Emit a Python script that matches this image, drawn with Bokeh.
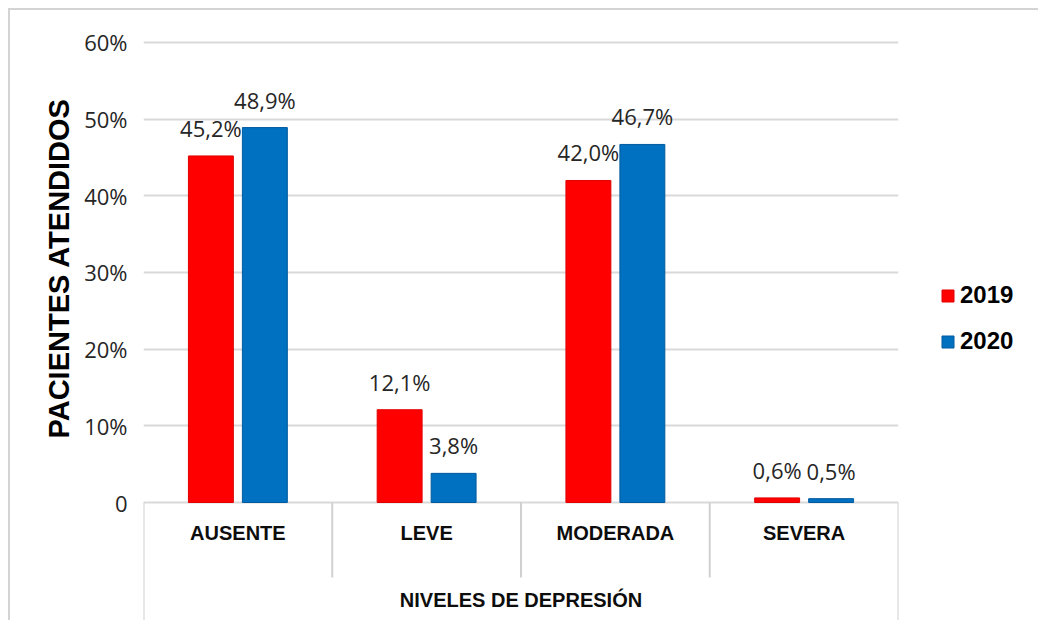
from bokeh.plotting import figure
from bokeh.layouts import row
from bokeh.models import (ColumnDataSource, FixedTicker, Legend, LegendItem, Title, Range1d)
from bokeh.transform import dodge
from bokeh.core.properties import value
from bokeh.embed import file_html
from bokeh.resources import INLINE

# ---- data ----
categories = ["AUSENTE", "LEVE", "MODERADA", "SEVERA"]
series_names = ["2019", "2020"]
values_2019 = [45.2, 12.1, 42.0, 0.6]
values_2020 = [48.9, 3.8, 46.7, 0.5]
y_ticks = [0, 10, 20, 30, 40, 50, 60]
y_tick_labels = ["0", "10%", "20%", "30%", "40%", "50%", "60%"]
x_title = "NIVELES DE DEPRESIÓN"
y_title = "PACIENTES ATENDIDOS"

RED = "#ff0000"
BLUE = "#0070c0"
RED_EDGE = "#e00000"
BLUE_EDGE = "#005a9e"
GRID = "#d9d9d9"
SEP = "#d0d0d0"

def fmt(v):
    return f"{v:.1f}%".replace(".", ",")

src = ColumnDataSource(dict(
    cat=categories,
    v19=values_2019,
    v20=values_2020,
    l19=[fmt(v) for v in values_2019],
    l20=[fmt(v) for v in values_2020],
))

p = figure(width=890, height=610, x_range=categories, y_range=(-15.39, 61.3),
           output_backend="svg", toolbar_location=None, x_axis_location=None,
           min_border_left=133, min_border_right=2, min_border_top=22,
           min_border_bottom=0)
p.x_range.range_padding = 0
p.outline_line_color = None
p.background_fill_color = "white"
p.border_fill_color = "white"

# grid
p.xgrid.visible = False
p.ygrid.ticker = FixedTicker(ticks=y_ticks)
p.ygrid.grid_line_color = GRID
p.ygrid.grid_line_width = 2

# y axis
ax = p.yaxis[0]
ax.ticker = FixedTicker(ticks=y_ticks)
ax.major_label_overrides = {t: s for t, s in zip(y_ticks, y_tick_labels)}
ax.axis_line_color = None
ax.major_tick_line_color = None
ax.minor_tick_line_color = None
ax.major_label_standoff = 10
ax.major_label_text_font = "Open Sans"
ax.major_label_text_font_size = "22px"
ax.major_label_text_color = "#262626"

yt = Title(text=y_title, align="left", offset=182, text_font="Liberation Sans",
           text_font_size="29px", text_font_style="bold", text_color="black",
           standoff=14)
p.add_layout(yt, "left")

off = 0.143
bw = 0.238
r19 = p.vbar(x=dodge("cat", -off, range=p.x_range), top="v19", width=bw, source=src,
             fill_color=RED, line_color=RED_EDGE, line_width=1)
r20 = p.vbar(x=dodge("cat", off, range=p.x_range), top="v20", width=bw, source=src,
             fill_color=BLUE, line_color=BLUE_EDGE, line_width=1)

lab_kw = dict(text_font=value("Open Sans"), text_font_size="22px", text_color="#262626",
              text_align="center", text_baseline="alphabetic", y_offset=-28)
p.text(x=dodge("cat", -off, range=p.x_range), y="v19", text="l19", source=src, **lab_kw)
p.text(x=dodge("cat", off, range=p.x_range), y="v20", text="l20", source=src, **lab_kw)

# category labels & separators below the axis
cat_src = ColumnDataSource(dict(cat=categories, y=[-4.04] * len(categories)))
p.text(x="cat", y="y", text="cat", source=cat_src,
       text_font=value("Liberation Sans"), text_font_style="bold", text_font_size="20px",
       text_color="#0d0d0d", text_align="center", text_baseline="middle")

inner_src = ColumnDataSource(dict(cat=categories[1:], y0=[0] * 3, y1=[-9.78] * 3))
p.segment(x0=dodge("cat", -0.5, range=p.x_range), x1=dodge("cat", -0.5, range=p.x_range),
          y0="y0", y1="y1", source=inner_src, line_color=SEP, line_width=2)
left_src = ColumnDataSource(dict(cat=[categories[0]], y0=[0], y1=[-16]))
p.segment(x0=dodge("cat", -0.5, range=p.x_range), x1=dodge("cat", -0.5, range=p.x_range),
          y0="y0", y1="y1", source=left_src, line_color=SEP, line_width=2)
right_src = ColumnDataSource(dict(cat=[categories[-1]], y0=[0], y1=[-16]))
p.segment(x0=dodge("cat", 0.5, range=p.x_range), x1=dodge("cat", 0.5, range=p.x_range),
          y0="y0", y1="y1", source=right_src, line_color=SEP, line_width=2)

xt_src = ColumnDataSource(dict(cat=[categories[1]], y=[-12.78], t=[x_title]))
p.text(x=dodge("cat", 0.5, range=p.x_range), y="y", text="t", source=xt_src,
       text_font=value("Liberation Sans"), text_font_style="bold", text_font_size="20px",
       text_color="#0d0d0d", text_align="center", text_baseline="middle")

# legend in a small side figure (its swatch renderers sit outside the visible range)
pl = figure(width=138, height=610, x_range=Range1d(0, 1), y_range=Range1d(0, 1),
            output_backend="svg", toolbar_location=None, x_axis_location=None,
            y_axis_location=None, min_border=0)
pl.grid.visible = False
pl.outline_line_color = None
pl.background_fill_color = "white"
pl.border_fill_color = "white"
swatch = ColumnDataSource(dict(x=[-5], top=[-5]))
g19 = pl.vbar(x="x", top="top", width=0.1, source=swatch, fill_color=RED, line_color=RED_EDGE)
g20 = pl.vbar(x="x", top="top", width=0.1, source=swatch, fill_color=BLUE, line_color=BLUE_EDGE)
legend = Legend(items=[LegendItem(label=series_names[0], renderers=[g19]),
                       LegendItem(label=series_names[1], renderers=[g20])],
                location=(40, 265), glyph_width=15, glyph_height=15, spacing=18,
                label_text_font="Liberation Sans", label_text_font_style="bold",
                label_text_font_size="24px", label_text_color="black", label_standoff=5,
                border_line_color=None, background_fill_alpha=0, margin=0)
pl.add_layout(legend, "center")

layout = row(p, pl, spacing=0)
layout.styles = {"margin-left": "8px", "margin-top": "8px",
                 "border-top": "2px solid #d4d4d4", "border-left": "2px solid #d4d4d4"}

open("out.html", "w").write(file_html(layout, INLINE))
